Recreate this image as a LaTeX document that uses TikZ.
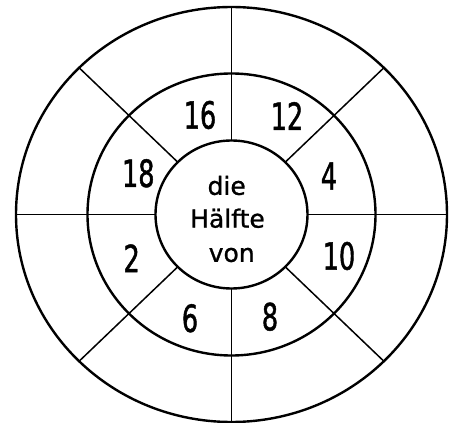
\documentclass[tikz,border=0pt]{standalone}
\usepackage{fontspec}
\setmainfont[FakeBold=1]{DejaVu Sans}
\newfontfamily\numfont[FakeStretch=0.68,FakeBold=1.2]{DejaVu Sans}
\begin{document}
\begin{tikzpicture}[x=1pt,y=-1pt,
  ring/.style={line width=2.4pt},
  spoke/.style={line width=1.5pt},
  num/.style={font=\numfont\fontsize{37.5}{40}\selectfont, inner sep=0pt},
  word/.style={font=\fontsize{25}{28}\selectfont, inner sep=0pt}]
\useasboundingbox (0,0) rectangle (459,423);
\coordinate (c) at (231.5,214.5);
% rings
\draw[ring] (c) ellipse [x radius=215.5pt, y radius=207.5pt];
\draw[ring] (c) ellipse [x radius=144pt, y radius=141pt];
\draw[ring] (c) ellipse [x radius=76pt, y radius=74pt];
% spokes
\foreach \a [count=\i] in {0,45,90,135,180,225,270,315}{
  \coordinate (in\i) at ({231.5+76*cos(\a)},{214.5-74*sin(\a)});
  \coordinate (out\i) at ({231.5+215.5*cos(\a)},{214.5-207.5*sin(\a)});
  \draw[spoke] (in\i) -- (out\i);
}
% numbers
\node[num] (n16) at (200,115) {16};
\node[num] (n12) at (287,116) {12};
\node[num] (n18) at (138.3,173.3) {18};
\node[num] (n4)  at (329,176) {4};
\node[num] (n2)  at (131.7,258.3) {2};
\node[num] (n10) at (339,256) {10};
\node[num] (n6)  at (190,318.3) {6};
\node[num] (n8)  at (270,316.7) {8};
% centre text
\node[word] (die) at (226.7,185.5) {die};
\node[word] (haelfte) at (227.5,218.3) {Hälfte};
\node[word] (von) at (231.7,255) {von};
\end{tikzpicture}
\end{document}
